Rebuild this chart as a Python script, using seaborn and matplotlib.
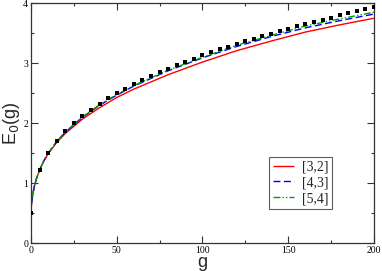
import numpy as np
import pandas as pd
import matplotlib
matplotlib.use("Agg")
import matplotlib.pyplot as plt
import seaborn as sns
from matplotlib.ticker import MultipleLocator

# exact ground state energies (black squares)
g_pts = [0, 5, 10, 15, 20, 25, 30, 35, 40, 45, 50, 55, 60, 65, 70, 75, 80, 85, 90, 95, 100,
         105, 110, 115, 120, 125, 130, 135, 140, 145, 150, 155, 160, 165, 170, 175, 180,
         185, 190, 195, 200]
e_pts = [0.500, 1.225, 1.505, 1.705, 1.866, 2.002, 2.122, 2.229, 2.326, 2.416, 2.500,
         2.578, 2.652, 2.721, 2.788, 2.851, 2.912, 2.970, 3.026, 3.079, 3.131,
         3.182, 3.231, 3.278, 3.324, 3.369, 3.412, 3.455, 3.496, 3.537, 3.576,
         3.615, 3.653, 3.690, 3.726, 3.762, 3.797, 3.831, 3.865, 3.898, 3.931]

# approximant curves
g_cur = [0, 0.1, 0.2, 0.5, 1, 2, 3, 5, 7.5, 10, 15, 20, 30, 40, 50, 60, 80, 100, 120, 140,
         160, 180, 200]
e_32 = [0.500, 0.559, 0.602, 0.696, 0.804, 0.951, 1.058, 1.218, 1.370, 1.490, 1.680, 1.830,
        2.070, 2.260, 2.430, 2.570, 2.810, 3.020, 3.210, 3.370, 3.520, 3.640, 3.750]
e_43 = [0.500, 0.559, 0.602, 0.696, 0.804, 0.952, 1.060, 1.222, 1.375, 1.500, 1.695, 1.850,
        2.100, 2.300, 2.470, 2.620, 2.875, 3.090, 3.280, 3.445, 3.590, 3.710, 3.820]
e_54 = [0.500, 0.559, 0.602, 0.696, 0.804, 0.952, 1.060, 1.223, 1.377, 1.502, 1.700, 1.855,
        2.105, 2.310, 2.480, 2.630, 2.885, 3.100, 3.300, 3.465, 3.620, 3.740, 3.850]

labels = ["[3,2]", "[4,3]", "[5,4]"]
colors = ["#ff0000", "#0000ff", "#00a000"]
dashes = [(1, 0), (5, 2.5), (5, 1.5, 1, 1.5, 1, 1.5)]

sns.set_style("ticks")
plt.rcParams['font.family'] = ['Liberation Serif', 'DejaVu Serif']

df = pd.DataFrame({
    "g": g_cur * 3,
    "E": e_32 + e_43 + e_54,
    "approx": [labels[0]] * len(g_cur) + [labels[1]] * len(g_cur) + [labels[2]] * len(g_cur),
})

fig = plt.figure(figsize=(3.82, 2.71), dpi=100)
ax = fig.add_axes([0.081, 0.102, 0.898, 0.886])

sns.lineplot(data=df, x="g", y="E", hue="approx", style="approx",
             palette=dict(zip(labels, colors)), dashes=dict(zip(labels, dashes)),
             linewidth=1.0, ax=ax, sort=False)
sns.scatterplot(x=g_pts, y=e_pts, marker="s", color="black", s=10, linewidth=0,
                ax=ax, zorder=5, legend=False)

ax.set_xlim(0, 200)
ax.set_ylim(0, 4)
ax.xaxis.set_major_locator(MultipleLocator(50))
ax.xaxis.set_minor_locator(MultipleLocator(25))
ax.yaxis.set_major_locator(MultipleLocator(1))
ax.yaxis.set_minor_locator(MultipleLocator(0.5))
ax.tick_params(which="both", direction="in", top=True, right=True,
               labelsize=7, colors="#333333", labelcolor="black", pad=2)
ax.tick_params(which="major", length=5, width=0.8)
ax.tick_params(which="minor", length=2.5, width=0.8)
for sp in ax.spines.values():
    sp.set_linewidth(0.9)
    sp.set_color("#333333")

ax.set_xlabel("g", fontsize=13, family=["Liberation Sans", "DejaVu Sans"], labelpad=-1)
ax.set_ylabel(r"E$_0$(g)", fontsize=13, family=["Liberation Sans", "DejaVu Sans"], labelpad=1)

leg = ax.legend(loc="lower left", bbox_to_anchor=(0.695, 0.145), fontsize=10,
                frameon=True, fancybox=False, handlelength=1.5, borderpad=0.25,
                labelspacing=0.2, handletextpad=0.6, borderaxespad=0)
leg.get_frame().set_edgecolor("#333333")
leg.get_frame().set_linewidth(0.8)

fig.savefig("out.png", dpi=100)
